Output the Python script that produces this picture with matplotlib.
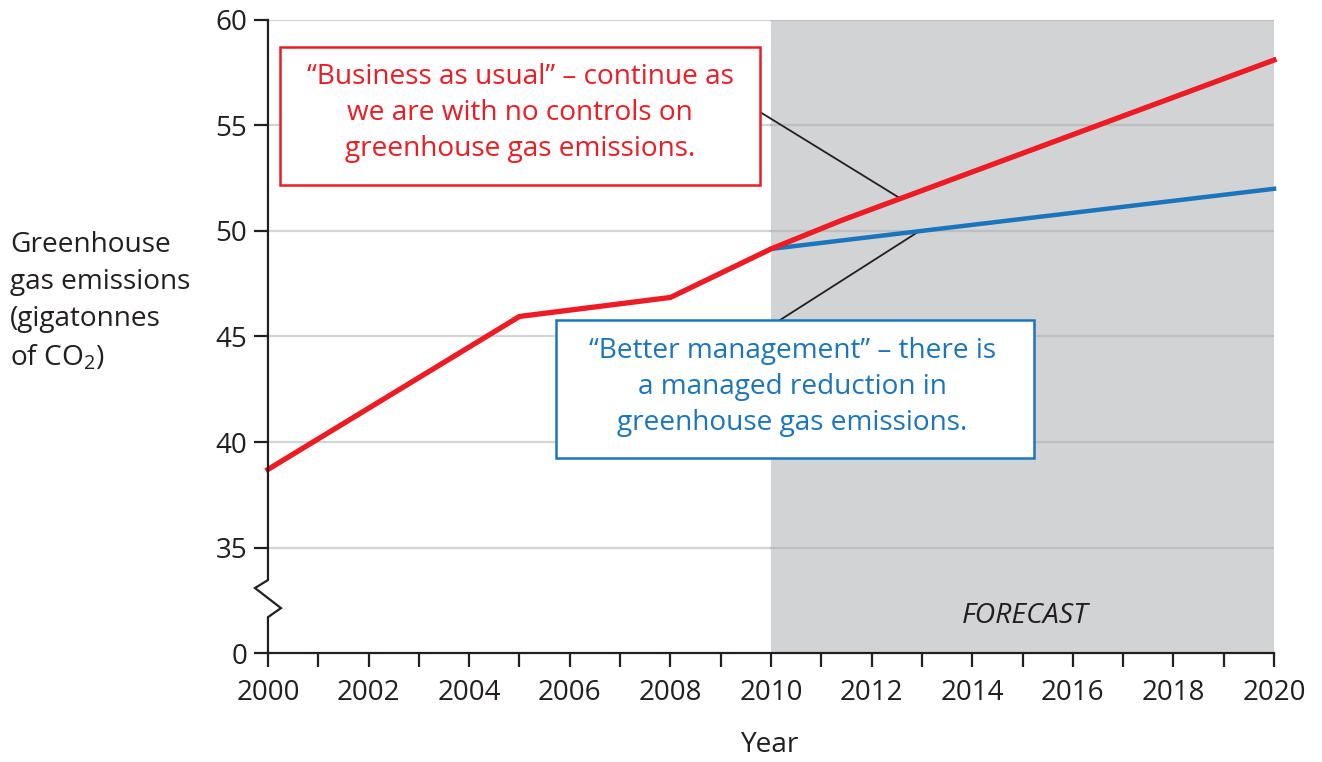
import matplotlib.pyplot as plt
from matplotlib.patches import Rectangle

plt.rcParams["font.family"] = ["Open Sans", "DejaVu Sans"]
plt.rcParams["mathtext.fontset"] = "custom"
plt.rcParams["mathtext.rm"] = "Open Sans"

# Data
years_bau = [2000, 2005, 2008, 2010, 2011.4, 2020]
emissions_bau = [38.7, 45.95, 46.85, 49.15, 50.5, 58.1]
years_managed = [2010, 2020]
emissions_managed = [49.15, 52.0]

# the y axis is broken: 30 on the scale stands for 0
y_ticks = [30, 35, 40, 45, 50, 55, 60]
y_tick_labels = ["0", "35", "40", "45", "50", "55", "60"]
x_ticks = list(range(2000, 2021))
x_tick_labels = [str(y) if y % 2 == 0 else "" for y in x_ticks]

red = "#ed1c24"
blue = "#1b75bc"
ink = "#231f20"

fig = plt.figure(figsize=(13.22, 7.62), dpi=100)
ax = fig.add_axes([0.2027, 0.143, 0.761, 0.8308])
ax.set_xlim(2000, 2020)
ax.set_ylim(30, 60)

# forecast shading
ax.axvspan(2010, 2020, color="#d1d3d4", zorder=0, lw=0)

# gridlines, lighter on white, darker on grey
for y in y_ticks[1:]:
    ax.plot([2000, 2010], [y, y], color="#d3d4d6", lw=1.6, zorder=1)
    ax.plot([2010, 2020], [y, y], color="#bcbec0", lw=1.6, zorder=1)

ax.plot(years_bau, emissions_bau, color=red, lw=3.8, zorder=3,
        solid_joinstyle="miter", clip_on=False)
ax.plot(years_managed, emissions_managed, color=blue, lw=3.2, zorder=2.9,
        clip_on=False)

# leader lines
ax.plot([2009.72, 2012.56], [55.73, 51.56], color=ink, lw=1.3, zorder=2.5)
ax.plot([2010.18, 2012.92], [45.78, 49.95], color=ink, lw=1.3, zorder=2.5)

# annotation boxes
ax.add_patch(Rectangle((2000.24, 52.18), 9.54, 6.54, facecolor="white",
                       edgecolor=red, lw=1.8, zorder=4))
ax.text(2005.01, 55.6, "\u201cBusiness as usual\u201d \u2013 continue as\n"
        "we are with no controls on\ngreenhouse gas emissions.",
        ha="center", va="center", color=red, fontsize=20.2,
        linespacing=1.38, zorder=5)
ax.add_patch(Rectangle((2005.73, 39.24), 9.5, 6.54, facecolor="white",
                       edgecolor=blue, lw=1.8, zorder=4))
ax.text(2010.42, 42.6, "\u201cBetter management\u201d \u2013 there is\n"
        "a managed reduction in\ngreenhouse gas emissions.",
        ha="center", va="center", color=blue, fontsize=20.2,
        linespacing=1.38, zorder=5)

ax.text(2015.05, 31.75, "FORECAST", ha="center", va="center",
        fontsize=20.5, style="italic", color=ink, zorder=5)

# spines and ticks
for side in ["top", "right", "left"]:
    ax.spines[side].set_visible(False)
ax.spines["bottom"].set_linewidth(1.6)
ax.spines["bottom"].set_color(ink)
ax.spines["bottom"].set_zorder(6)

# left spine with a break zigzag
tr = ax.get_yaxis_transform()
ax.plot([0, 0, -0.0129, 0.0129, 0, 0],
        [60, 33.46, 33.08, 32.13, 31.7, 30],
        color=ink, lw=1.6, transform=tr, clip_on=False, zorder=6,
        solid_joinstyle="miter")

ax.set_xticks(x_ticks)
ax.set_xticklabels(x_tick_labels)
ax.set_yticks(y_ticks)
ax.set_yticklabels(y_tick_labels)
ax.tick_params(axis="both", direction="out", length=10, width=1.6,
               color=ink, labelsize=20, labelcolor=ink)
ax.tick_params(axis="x", pad=9)
ax.tick_params(axis="y", pad=5)

fig.text(0.0076, 0.697, "Greenhouse\ngas emissions\n(gigatonnes\nof CO$_\\mathregular{2}$)",
         ha="left", va="top", fontsize=20.2, color=ink, linespacing=1.42)
fig.text(0.582, 0.004, "Year", ha="center", va="bottom", fontsize=20.2,
         color=ink)

fig.savefig("out.png", dpi=100)
